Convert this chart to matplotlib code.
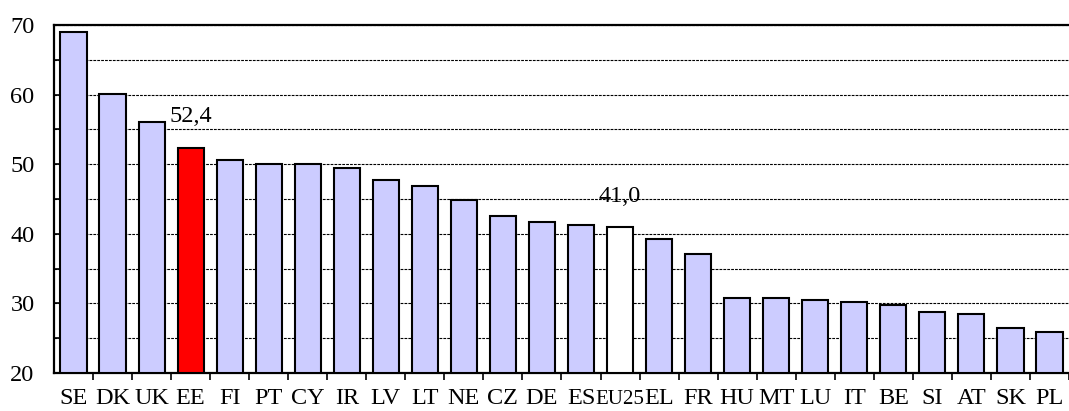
import numpy as np
import matplotlib.pyplot as plt
from matplotlib.ticker import MultipleLocator, FixedLocator

countries = ['SE', 'DK', 'UK', 'EE', 'FI', 'PT', 'CY', 'IR', 'LV', 'LT', 'NE', 'CZ', 'DE',
             'ES', 'EU25', 'EL', 'FR', 'HU', 'MT', 'LU', 'IT', 'BE', 'SI', 'AT', 'SK', 'PL']
values = [69.0, 60.1, 56.1, 52.4, 50.6, 50.1, 50.1, 49.5, 47.7, 46.9, 44.9, 42.6, 41.7,
          41.3, 41.0, 39.2, 37.1, 30.8, 30.8, 30.5, 30.2, 29.7, 28.8, 28.5, 26.5, 25.9]
highlight = {'EE': '#ff0000', 'EU25': '#ffffff'}
labelled = ['EE', 'EU25']

plt.rcParams['font.family'] = 'Liberation Serif'
FS = 17.5

fig = plt.figure(figsize=(10.69, 4.11), dpi=100)
ax = fig.add_axes([0.0505, 0.0925, 0.9495, 0.8465])

x = np.arange(len(countries))
colors = [highlight.get(c, '#ccccff') for c in countries]
base = 20
ax.bar(x, np.array(values) - base, width=0.67, bottom=base, color=colors,
       edgecolor='black', linewidth=1.5, zorder=3)

# value labels above the highlighted bars
for c, v in zip(countries, values):
    if c in labelled:
        i = countries.index(c)
        ax.annotate(f'{v:.1f}'.replace('.', ','), (i, v), xytext=(0, 22),
                    textcoords='offset points', ha='center', va='center',
                    fontsize=FS, zorder=4)

ax.set_xlim(-0.5, len(countries) - 0.5)
ax.set_ylim(20, 70)

ax.yaxis.set_major_locator(MultipleLocator(10))
ax.yaxis.set_minor_locator(MultipleLocator(5))
ax.grid(axis='y', which='both', color='black', linestyle=(0, (2.5, 1)), linewidth=0.8, zorder=1)
ax.tick_params(axis='y', which='both', direction='in', length=5, width=1.2, pad=14, labelsize=FS)

ax.set_xticks(x)
ax.set_xticklabels(countries)
ax.xaxis.set_minor_locator(FixedLocator(np.arange(len(countries)) + 0.5))
ax.tick_params(axis='x', which='major', length=0, pad=22.5, labelsize=FS)
ax.tick_params(axis='x', which='minor', direction='out', length=5, width=1.2)
# country codes share one baseline; EU25 is set smaller so it fits between ES and EL
for lbl in ax.get_xticklabels():
    lbl.set_verticalalignment('baseline')
    if lbl.get_text() == 'EU25':
        lbl.set_fontsize(15)

ax.spines['right'].set_visible(False)
for s in ['left', 'top', 'bottom']:
    ax.spines[s].set_linewidth(1.6)

fig.savefig('out.png', dpi=100)
